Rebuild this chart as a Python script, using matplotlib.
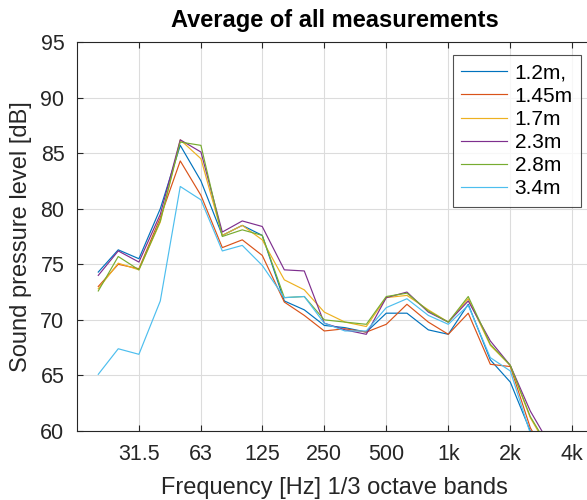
import matplotlib

matplotlib.use("Agg")
import matplotlib.pyplot as plt
from matplotlib.ticker import FixedLocator, NullLocator

# 1/3 octave band centre frequencies [Hz]
freqs = [20, 25, 31.5, 40, 50, 63, 80, 100, 125, 160, 200, 250, 315, 400,
         500, 630, 800, 1000, 1250, 1600, 2000, 2500, 3150]

spl_1_2 = [74.3, 76.3, 75.5, 80.0, 85.7, 82.5, 77.6, 78.5, 77.6, 71.7, 70.9, 69.5,
           69.3, 68.9, 70.6, 70.6, 69.1, 68.7, 71.4, 66.4, 64.4, 60.0, 56.0]
spl_1_45 = [73.0, 75.0, 74.6, 79.2, 84.3, 81.2, 76.5, 77.2, 75.8, 71.6, 70.4, 69.0,
            69.2, 68.9, 69.6, 71.4, 69.8, 68.7, 70.6, 66.0, 65.8, 60.3, 57.0]
spl_1_7 = [72.8, 75.1, 74.5, 78.8, 86.2, 84.5, 77.6, 78.5, 77.2, 73.6, 72.7, 70.7,
           69.8, 69.4, 72.0, 72.2, 70.9, 69.8, 71.9, 67.7, 65.9, 61.2, 58.0]
spl_2_3 = [74.0, 76.2, 75.2, 79.5, 86.2, 85.1, 77.9, 78.9, 78.4, 74.5, 74.4, 69.7,
           69.1, 68.7, 72.0, 72.5, 70.7, 69.8, 71.7, 68.1, 65.9, 61.8, 58.6]
spl_2_8 = [72.6, 75.7, 74.5, 78.9, 86.0, 85.7, 77.5, 78.1, 77.6, 72.0, 72.1, 70.0,
           69.8, 69.6, 72.1, 72.4, 70.8, 69.8, 72.1, 67.8, 65.9, 61.3, 58.2]
spl_3_4 = [65.1, 67.4, 66.9, 71.7, 82.0, 80.8, 76.2, 76.7, 74.9, 72.0, 72.1, 69.7,
           69.0, 69.0, 71.1, 71.9, 70.4, 69.6, 71.3, 66.6, 65.4, 59.8, 55.0]

labels = ["1.2m,", "1.45m", "1.7m", "2.3m", "2.8m", "3.4m"]
series = [spl_1_2, spl_1_45, spl_1_7, spl_2_3, spl_2_8, spl_3_4]
colors = ["#0072BD", "#D95319", "#EDB120", "#7E2F8E", "#77AC30", "#4DBEEE"]

tick_freqs = [31.5, 63, 125, 250, 500, 1000, 2000, 4000]
tick_labels = ["31.5", "63", "125", "250", "500", "1k", "2k", "4k"]

plt.rcParams["font.family"] = ["Liberation Sans", "DejaVu Sans"]

fig = plt.figure(figsize=(5.87, 5.0), dpi=100)
ax = fig.add_axes([0.131, 0.138, 0.878, 0.778])

for vals, lab, col in zip(series, labels, colors):
    ax.plot(freqs, vals, color=col, lw=0.85, label=lab)

ax.set_xscale("log")
ax.set_xlim(15.75, 5000)
ax.set_ylim(60, 95)
ax.xaxis.set_major_locator(FixedLocator(tick_freqs))
ax.xaxis.set_minor_locator(NullLocator())
ax.set_xticklabels(tick_labels)
ax.set_yticks(range(60, 96, 5))

ax.grid(True, color="#dcdcdc", lw=0.8)
ax.set_axisbelow(True)
ax.tick_params(direction="in", length=4, width=0.8, top=True, right=False,
               labelsize=15.5, colors="#262626", pad=9)
for s in ax.spines.values():
    s.set_color("#262626")
    s.set_linewidth(0.8)
ax.spines["right"].set_visible(False)

ax.set_xlabel("Frequency [Hz] 1/3 octave bands", fontsize=17, color="#262626", labelpad=9)
ax.set_ylabel("Sound pressure level [dB]", fontsize=17, color="#262626", labelpad=6)
ax.set_title("Average of all measurements", fontsize=17, fontweight="bold", pad=11)

leg = ax.legend(loc="upper left", bbox_to_anchor=(0.73, 0.966), fontsize=15,
                frameon=True, fancybox=False, edgecolor="#262626",
                handlelength=2.2, handletextpad=0.35, labelspacing=0.2,
                borderpad=0.4, borderaxespad=0)
leg.get_frame().set_linewidth(0.8)

fig.savefig("out.png", dpi=100)
